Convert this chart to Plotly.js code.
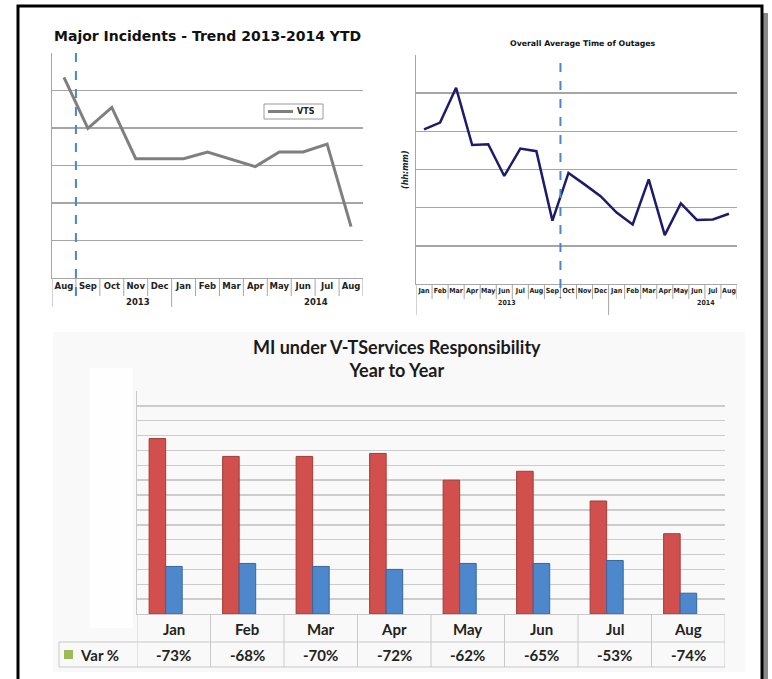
<!DOCTYPE html>
<html><head><meta charset="utf-8">
<script src="https://cdn.plot.ly/plotly-3.0.1.min.js"></script>
<style>html,body{margin:0;padding:0;background:#fff;}#chart{width:772px;height:679px;}</style>
</head><body><div id="chart"></div>
<script>
// ---- Data ----
const miMonths = ['Aug','Sep','Oct','Nov','Dec','Jan','Feb','Mar','Apr','May','Jun','Jul','Aug'];
const miVTS = [5.35, 3.99, 4.55, 3.18, 3.18, 3.18, 3.36, 3.17, 2.97, 3.36, 3.36, 3.57, 1.37];
const miYears = ['2013', '2014'];
const miLegend = 'VTS';

const outMonths = ['Jan','Feb','Mar','Apr','May','Jun','Jul','Aug','Sep','Oct','Nov','Dec',
                   'Jan','Feb','Mar','Apr','May','Jun','Jul','Aug'];
const outAvg = [4.05, 4.23, 5.14, 3.64, 3.66, 2.83, 3.55, 3.48, 1.66, 2.91, 2.61, 2.30,
                1.87, 1.56, 2.74, 1.28, 2.11, 1.68, 1.69, 1.84];
const outYears = ['2013', '2014'];

const ytdMonths = ['Jan','Feb','Mar','Apr','May','Jun','Jul','Aug'];
const ytdPrev = [59, 53, 53, 54, 45, 48, 38, 27];
const ytdCurr = [16, 17, 16, 15, 17, 17, 18, 7];
const ytdVar = ['-73%','-68%','-70%','-72%','-62%','-65%','-53%','-74%'];

// ---- helpers ----
const W = 772, H = 679;
const px = x => x / W;
const py = y => 1 - y / H;
const idx = a => a.map((_, i) => i);

const barW = 0.225;
const traces = [
  {type:'scatter', mode:'lines', name:miLegend, x: idx(miMonths), y: miVTS,
   xaxis:'x', yaxis:'y', line:{color:'#7f7f7f', width:3}},
  {type:'scatter', mode:'lines', name:'Avg', x: idx(outMonths), y: outAvg,
   xaxis:'x2', yaxis:'y2', line:{color:'#1c1c6b', width:2.5}},
  {type:'bar', name:'2013', x: ytdMonths, y: ytdPrev, xaxis:'x3', yaxis:'y3',
   width: barW, offset: -0.11 - barW,
   marker:{color:'#d14f4c', line:{color:'#a23c39', width:1}}},
  {type:'bar', name:'2014', x: ytdMonths, y: ytdCurr, xaxis:'x3', yaxis:'y3',
   width: barW, offset: -0.11,
   marker:{color:'#4e88cc', line:{color:'#35679f', width:1}}}
];

const shapes = [];
const annotations = [];
const grey = '#a6a6a6';
const txt = (o) => Object.assign({showarrow:false, xanchor:'center', yanchor:'middle', xref:'paper', yref:'paper'}, o);

// background of bottom chart
shapes.push({type:'rect', xref:'paper', yref:'paper', x0:px(53), x1:px(745), y0:py(672), y1:py(332),
  fillcolor:'#f9f9f9', line:{width:0}, layer:'below'});
shapes.push({type:'rect', xref:'paper', yref:'paper', x0:px(90), x1:px(133), y0:py(628), y1:py(368),
  fillcolor:'#fefefe', line:{width:0}, layer:'below'});

// chart 1 label boxes
for (let i = 0; i <= miMonths.length; i++) {
  const long = (i === 0 || i === 5);
  shapes.push({type:'line', xref:'x', yref:'paper', x0:i-0.5, x1:i-0.5,
    y0:py(278), y1:py(long ? 307 : 296), line:{color:grey, width:1}});
}
// chart 2 label boxes
for (let i = 0; i <= outMonths.length; i++) {
  const long = (i === 0 || i === 12);
  shapes.push({type:'line', xref:'x2', yref:'paper', x0:i-0.5, x1:i-0.5,
    y0:py(284), y1:py(long ? 315 : 299), line:{color:grey, width:1}});
}
// dashed markers
shapes.push({type:'line', xref:'x', yref:'paper', x0:0.5, x1:0.5, y0:py(53), y1:py(296),
  line:{color:'#4a86c8', width:2, dash:'dash'}});
shapes.push({type:'line', xref:'x2', yref:'paper', x0:8.5, x1:8.5, y0:py(63), y1:py(298),
  line:{color:'#4a86c8', width:2, dash:'dash'}});

// chart 1 legend box
shapes.push({type:'rect', xref:'paper', yref:'paper', x0:px(264), x1:px(323), y0:py(119), y1:py(104),
  fillcolor:'#fff', line:{color:'#9a9a9a', width:1}});
shapes.push({type:'line', xref:'paper', yref:'paper', x0:px(268), x1:px(293), y0:py(111.5), y1:py(111.5),
  line:{color:'#7f7f7f', width:3}});
annotations.push(txt({x:px(295), y:py(111.5), xanchor:'left', text:'<b>'+miLegend+'</b>',
  font:{family:'DejaVu Sans', size:8, color:'#222'}}));

// bottom table
const tcol = '#c9c9c9';
for (let i = 0; i <= ytdMonths.length; i++) {
  shapes.push({type:'line', xref:'x3', yref:'paper', x0:i-0.5, x1:i-0.5, y0:py(614), y1:py(667),
    line:{color:tcol, width:1}});
}
shapes.push({type:'line', xref:'paper', yref:'paper', x0:px(59), x1:px(725), y0:py(642), y1:py(642), line:{color:tcol, width:1}});
shapes.push({type:'line', xref:'paper', yref:'paper', x0:px(59), x1:px(725), y0:py(667), y1:py(667), line:{color:tcol, width:1}});
shapes.push({type:'line', xref:'paper', yref:'paper', x0:px(59), x1:px(59), y0:py(642), y1:py(667), line:{color:tcol, width:1}});
shapes.push({type:'rect', xref:'paper', yref:'paper', x0:px(64), x1:px(73), y0:py(659), y1:py(650),
  fillcolor:'#9bbb59', line:{width:0}});

// outer frame with shadow
shapes.push({type:'rect', xref:'paper', yref:'paper', x0:px(763), x1:px(768), y0:py(690), y1:py(13),
  fillcolor:'#8a8a8a', line:{width:0}});
shapes.push({type:'rect', xref:'paper', yref:'paper', x0:px(18), x1:px(762), y0:py(695), y1:py(6),
  fillcolor:'rgba(0,0,0,0)', line:{color:'#000', width:3}});

// titles
annotations.push(txt({x:px(52), y:py(36), xanchor:'left',
  text:'<b>Major Incidents - Trend 2013-2014 YTD</b>',
  font:{family:'DejaVu Sans', size:14, color:'#111'}}));
annotations.push(txt({x:px(583), y:py(43),
  text:'<b>Overall Average Time of Outages</b>',
  font:{family:'DejaVu Sans', size:7.8, color:'#111'}}));
annotations.push(txt({x:px(405), y:py(170), text:'<b><i>(hh:mm)</i></b>', textangle:-90,
  font:{family:'DejaVu Sans', size:8, color:'#222'}}));
annotations.push(txt({x:px(397), y:py(358),
  text:'<b>MI under V-TServices Responsibility<br>Year to Year</b>',
  font:{family:'Lato', size:18, color:'#1a1a1a'}}));

// year labels
const yr1Pos = [138, 316], yr2Pos = [507, 706];
miYears.forEach((t, i) => annotations.push(txt({x:px(yr1Pos[i]), y:py(302),
  text:'<b>'+t+'</b>', font:{family:'DejaVu Sans', size:8.5, color:'#222'}})));
outYears.forEach((t, i) => annotations.push(txt({x:px(yr2Pos[i]), y:py(303),
  text:'<b>'+t+'</b>', font:{family:'DejaVu Sans Condensed, DejaVu Sans', size:7, color:'#222'}})));

// table text
ytdMonths.forEach((m, i) => {
  annotations.push(txt({xref:'x3', x:m, y:py(629), text:'<b>'+m+'</b>',
    font:{family:'Lato', size:15, color:'#222'}}));
  annotations.push(txt({xref:'x3', x:m, y:py(655), text:'<b>'+ytdVar[i]+'</b>',
    font:{family:'Lato', size:15, color:'#222'}}));
});
annotations.push(txt({x:px(78), y:py(655), xanchor:'left', text:'<b>Var %</b>',
  font:{family:'Lato', size:15, color:'#222'}}));

const layout = {
  width: W, height: H, margin:{l:0, r:0, t:0, b:0},
  paper_bgcolor:'#fff', plot_bgcolor:'rgba(0,0,0,0)',
  showlegend:false,
  xaxis:{domain:[px(52), px(363)], range:[-0.5, miMonths.length-0.5], tickvals:idx(miMonths), ticktext:miMonths,
    showgrid:false, zeroline:false, showline:true, linecolor:grey, linewidth:1, ticks:'', tickangle:0,
    tickfont:{family:'DejaVu Sans', size:8.5, color:'#222', weight:'bold'}, anchor:'y'},
  yaxis:{domain:[py(278), py(53)], range:[0,6], tickvals:[1,2,3,4,5,6], showticklabels:false,
    gridcolor:grey, gridwidth:1.5, zeroline:false, showline:true, linecolor:grey, linewidth:1, anchor:'x'},
  xaxis2:{domain:[px(416), px(737)], range:[-0.5, outMonths.length-0.5], tickvals:idx(outMonths), ticktext:outMonths,
    showgrid:false, zeroline:false, showline:true, linecolor:grey, linewidth:1, ticks:'', tickangle:0,
    tickfont:{family:'DejaVu Sans Condensed, DejaVu Sans', size:7, color:'#222', weight:'bold'}, anchor:'y2'},
  yaxis2:{domain:[py(284), py(55)], range:[0,6], tickvals:[1,2,3,4,5], showticklabels:false,
    gridcolor:grey, gridwidth:1.5, zeroline:false, showline:true, linecolor:grey, linewidth:1, anchor:'x2'},
  xaxis3:{domain:[px(137), px(725)], type:'category', range:[-0.5, ytdMonths.length-0.5],
    showticklabels:false, showgrid:false, zeroline:false, showline:true, linecolor:tcol, anchor:'y3'},
  yaxis3:{domain:[py(614), py(391)], range:[0,75], dtick:5, showticklabels:false,
    gridcolor:'#cccccc', gridwidth:1.5, zeroline:false, showline:true, linecolor:tcol, anchor:'x3'},
  barmode:'overlay',
  shapes: shapes, annotations: annotations
};

Plotly.newPlot('chart', traces, layout, {staticPlot:true, displayModeBar:false});
</script></body></html>
